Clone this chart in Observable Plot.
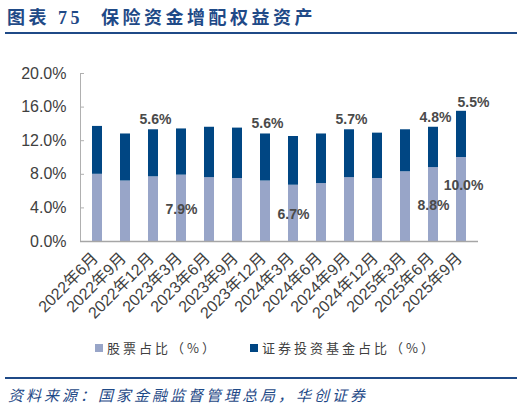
<!DOCTYPE html>
<html>
<head>
<meta charset="utf-8">
<script src="https://cdn.jsdelivr.net/npm/d3@7"></script>
<script src="https://cdn.jsdelivr.net/npm/@observablehq/plot@0.6"></script>
<style>
  body { margin: 0; background: #fff; }
  #wrap {
    position: relative; width: 524px; height: 410px; overflow: hidden;
    font-family: "Liberation Sans", "Noto Sans CJK SC", sans-serif;
  }
  #chart { position: absolute; left: 0; top: 0; }
  #chart g[aria-label="x-axis tick label"], #chart g[aria-label="y-axis tick label"] { font-size: 16px !important; }
  #title {
    position: absolute; left: 7px; top: 3px; white-space: nowrap;
    font-family: "Liberation Serif", "Noto Sans CJK SC", serif;
    font-weight: bold; font-size: 18px; letter-spacing: 3.5px; color: #1f4a87;
  }
  .rule { position: absolute; left: 5px; width: 512px; height: 2px; background: #1f4a87; }
  #legend {
    position: absolute; top: 338px; left: 0; font-family: "Noto Sans CJK SC", sans-serif;
    font-size: 13px; letter-spacing: 3px; color: #404040; white-space: nowrap;
  }
  .item { position: absolute; top: 0; display: flex; align-items: center; }
  .sw { width: 8px; height: 8px; margin-right: 4px; }
  #source {
    position: absolute; left: 8px; top: 384px; white-space: nowrap;
    font-family: "Noto Sans CJK SC", sans-serif; font-style: italic;
    font-size: 15px; letter-spacing: 3px; color: #1f4a87;
  }
</style>
</head>
<body>
<div id="wrap">
  <div id="title">图表 75<span style="margin-left:18px">保险资金增配权益资产</span></div>
  <div class="rule" style="top:32px"></div>
  <div id="chart"></div>
  <div id="legend"></div>
  <div class="rule" style="top:377px"></div>
  <div id="source">资料来源：国家金融监督管理总局，华创证券</div>
</div>
<script>
const dates = ["2022年6月", "2022年9月", "2022年12月", "2023年3月", "2023年6月", "2023年9月", "2023年12月",
  "2024年3月", "2024年6月", "2024年9月", "2024年12月", "2025年3月", "2025年6月", "2025年9月"];
const stock = [8.0, 7.2, 7.7, 7.9, 7.6, 7.5, 7.2, 6.7, 6.9, 7.6, 7.5, 8.3, 8.8, 10.0];
const fund = [5.7, 5.6, 5.6, 5.5, 6.0, 6.0, 5.6, 5.8, 5.9, 5.7, 5.4, 5.0, 4.8, 5.5];
const fundLabelAt = [2, 6, 9, 12];
const stockLabelAt = [3, 7, 12];
const lastIdx = 13;
const yTicks = [0, 4, 8, 12, 16, 20];
const seriesNames = ["股票占比（%）", "证券投资基金占比（%）"];
const colors = ["#98a5c8", "#004683"];

const rows = dates.flatMap((d, i) => [
  { date: d, series: seriesNames[0], value: stock[i] },
  { date: d, series: seriesNames[1], value: fund[i] },
]);
const totals = dates.map((d, i) => ({ date: d, i, stock: stock[i], fund: fund[i], total: stock[i] + fund[i] }));
const pct = (v) => v.toFixed(1) + "%";
const labelStyle = { fontSize: 14, fontWeight: "bold", fill: "#4a4a4a" };

const chart = Plot.plot({
  width: 524,
  height: 410,
  marginLeft: 80,
  marginRight: 46,
  marginTop: 73,
  marginBottom: 169,
  style: { fontFamily: '"Liberation Sans", "Noto Sans CJK SC", sans-serif', fontSize: "15px", color: "#404040", background: "transparent" },
  x: { domain: dates, range: [71, 487], padding: 0.66, label: null },
  y: { domain: [0, 20], label: null },
  color: { domain: seriesNames, range: colors },
  marks: [
    Plot.barY(rows, { x: "date", y: "value", fill: "series" }),
    Plot.frame({ anchor: "left", stroke: "#b0b0b0" }),
    Plot.ruleY(yTicks, { stroke: "#b0b0b0", insetRight: 394 }),
    Plot.ruleY([0], { stroke: "#a6a6a6", strokeWidth: 1.5 }),
    Plot.axisY({ ticks: yTicks, tickSize: 0, tickPadding: 14, tickFormat: pct, fill: "#404040" }),
    Plot.axisX({ tickSize: 0, tickPadding: 14, tickRotate: -45, dx: -2, fill: "#404040" }),
    Plot.text(totals.filter((d) => fundLabelAt.includes(d.i)), { x: "date", y: "total", text: (d) => pct(d.fund), dy: -10, dx: 2, ...labelStyle }),
    Plot.text(totals.filter((d) => d.i === lastIdx), { x: "date", y: "total", text: (d) => pct(d.fund), dy: -9, dx: 12, ...labelStyle }),
    Plot.text(totals.filter((d) => stockLabelAt.includes(d.i)), { x: "date", y: (d) => d.stock / 2, text: (d) => pct(d.stock), dy: 1, ...labelStyle }),
    Plot.text(totals.filter((d) => d.i === lastIdx), { x: "date", y: (d) => d.stock / 2, text: (d) => pct(d.stock), dy: -14, dx: 2, ...labelStyle }),
  ],
});
document.getElementById("chart").appendChild(chart);

// legend
const legend = document.getElementById("legend");
const legendX = [95, 250];
seriesNames.forEach((name, i) => {
  const item = document.createElement("div");
  item.className = "item";
  item.style.left = legendX[i] + "px";
  item.innerHTML = `<span class="sw" style="background:${colors[i]}"></span><span>${name}</span>`;
  legend.appendChild(item);
});
</script>
</body>
</html>
